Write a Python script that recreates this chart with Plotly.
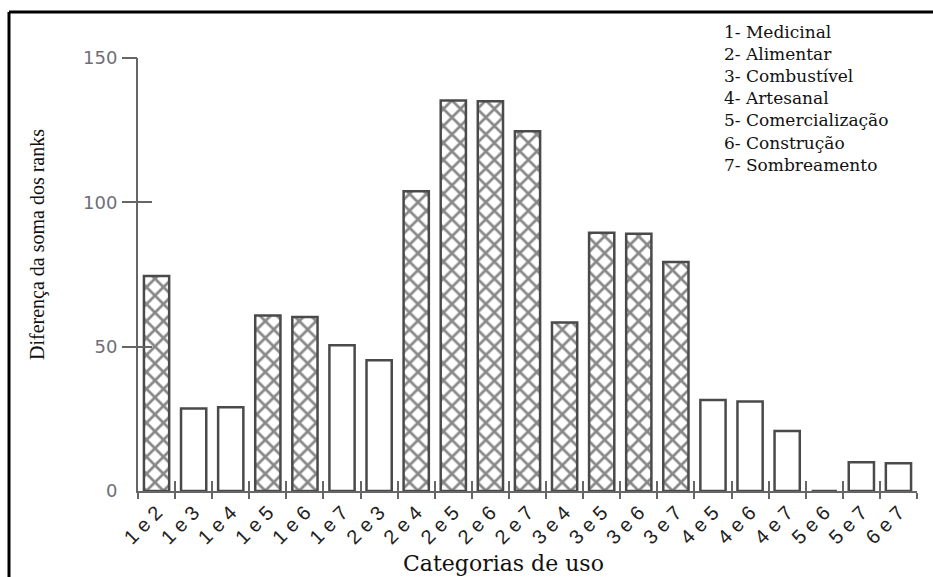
import plotly.graph_objects as go

# Pairwise comparisons of use categories
categories = ["1 e 2", "1 e 3", "1 e 4", "1 e 5", "1 e 6", "1 e 7", "2 e 3",
              "2 e 4", "2 e 5", "2 e 6", "2 e 7", "3 e 4", "3 e 5", "3 e 6",
              "3 e 7", "4 e 5", "4 e 6", "4 e 7", "5 e 6", "5 e 7", "6 e 7"]
rank_diff = [74.5, 28.6, 29.0, 60.8, 60.3, 50.5, 45.3,
             103.8, 135.3, 135.0, 124.6, 58.4, 89.5, 89.1,
             79.3, 31.5, 31.0, 20.8, 0.0, 10.0, 9.6]
# significant differences are cross-hatched
significant = [True, False, False, True, True, False, False,
               True, True, True, True, True, True, True,
               True, False, False, False, False, False, False]

y_tickvals = [0, 50, 100, 150]
legend_lines = ["1- Medicinal", "2- Alimentar", "3- Combustível", "4- Artesanal",
                "5- Comercialização", "6- Construção", "7- Sombreamento"]

W, H = 933, 577
ML, MR, MT, MB = 138, 16, 58, 86
PW, PH = W - ML - MR, H - MT - MB


def fx(px):
    return (px - ML) / PW


def fy(py):
    return (H - MB - py) / PH


AX = "#666666"

fig = go.Figure()
fig.add_trace(go.Bar(
    x=categories, y=rank_diff, width=0.68,
    marker=dict(
        color="white",
        line=dict(color="#4a4a4a", width=2.5),
        pattern=dict(shape=["x" if s else "" for s in significant],
                     fgcolor="#111111", bgcolor="white", size=12, solidity=0.4),
    ),
    hoverinfo="x+y", showlegend=False,
))
# carrier trace for the overlaid axes (crossing tick marks)
fig.add_trace(go.Scatter(
    x=categories, y=rank_diff, xaxis="x2", yaxis="y2", mode="markers",
    marker=dict(opacity=0), hoverinfo="skip", showlegend=False,
))

fig.update_layout(
    width=W, height=H,
    margin=dict(l=ML, r=MR, t=MT, b=MB, pad=0),
    paper_bgcolor="white", plot_bgcolor="white",
    xaxis=dict(
        type="category", categoryorder="array", categoryarray=categories,
        range=[-0.5, len(categories) - 0.5],
        showline=True, linecolor=AX, linewidth=2,
        ticks="outside", tickson="boundaries", ticklen=6, tickwidth=2, tickcolor=AX,
        tickangle=-45, tickfont=dict(family="Liberation Sans", size=20, color="#222222"),
        showgrid=False, zeroline=False, fixedrange=True,
    ),
    xaxis2=dict(
        type="category", categoryorder="array", categoryarray=categories,
        overlaying="x", range=[-0.5, len(categories) - 0.5],
        showline=False, ticks="inside", tickson="boundaries", ticklen=10,
        tickwidth=2, tickcolor=AX, showticklabels=False, showgrid=False,
        zeroline=False,
    ),
    yaxis=dict(
        range=[0, 150], tickvals=y_tickvals, ticktext=[str(v) for v in y_tickvals],
        showline=True, linecolor=AX, linewidth=2,
        ticks="inside", ticklen=14, tickwidth=2, tickcolor=AX,
        ticklabelstandoff=15,
        tickfont=dict(family="DejaVu Sans", size=18, color="#6e6e78"),
        showgrid=False, zeroline=False,
    ),
    yaxis2=dict(
        overlaying="y", range=[0, 150], tickvals=y_tickvals[1:],
        showline=False, ticks="outside", ticklen=15, tickwidth=2, tickcolor=AX,
        showticklabels=False, showgrid=False, zeroline=False,
    ),
)

annotations = [
    dict(text="Diferença da soma dos ranks", textangle=-90,
         x=fx(37), y=fy(245), xref="paper", yref="paper",
         xanchor="center", yanchor="middle", showarrow=False,
         font=dict(family="Liberation Serif", size=20, color="#111111")),
    dict(text="Categorias de uso",
         x=fx(503), y=fy(563), xref="paper", yref="paper",
         xanchor="center", yanchor="middle", showarrow=False,
         font=dict(family="DejaVu Serif", size=22, color="#111111")),
    dict(text="<br>".join(legend_lines), align="left",
         x=fx(722), y=fy(20), xref="paper", yref="paper",
         xanchor="left", yanchor="top", showarrow=False,
         font=dict(family="DejaVu Serif", size=17, color="#111111")),
]
fig.update_layout(annotations=annotations)

# outer frame (top and left edges)
fig.add_shape(type="line", xref="paper", yref="paper",
              x0=fx(9), x1=fx(933), y0=fy(12), y1=fy(12),
              line=dict(color="black", width=3))
fig.add_shape(type="line", xref="paper", yref="paper",
              x0=fx(9), x1=fx(9), y0=fy(12), y1=fy(577),
              line=dict(color="black", width=3))

fig.write_html("out.html")
